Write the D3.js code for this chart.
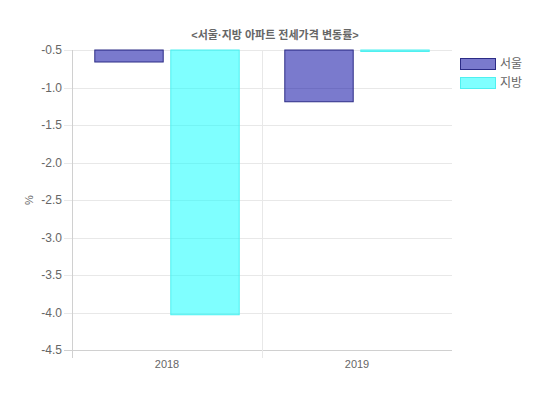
<!DOCTYPE html>
<html>
<head>
<meta charset="utf-8">
<script src="https://cdn.jsdelivr.net/npm/d3@7"></script>
<style>
  body { margin: 0; background: #fff; }
  svg text { font-family: "Liberation Sans", Arial, "Noto Sans CJK KR", sans-serif; fill: #666; }
</style>
</head>
<body>
<div id="chart"></div>
<script>
(function() {
  var years = ["2018", "2019"];
  var seriesNames = ["서울", "지방"];
  var seoul = [-0.66, -1.19];
  var jibang = [-4.03, -0.52];
  var yTicks = [-0.5, -1.0, -1.5, -2.0, -2.5, -3.0, -3.5, -4.0, -4.5];
  var titleText = "<서울·지방 아파트 전세가격 변동률>";

  var fills = ["rgba(0,0,160,0.52)", "rgba(0,255,255,0.5)"];
  var strokes = ["#2c2c86", "#4ff0f0"];

  var margin = { top: 50, left: 72, right: 98, bottom: 45 },
    width = 550 - margin.left - margin.right,
    height = 395 - margin.top - margin.bottom;

  var svg = d3.select("#chart")
    .append("svg")
    .attr("width", 550)
    .attr("height", 395)
    .append("g")
    .attr("transform", "translate(" + margin.left + "," + margin.top + ")");

  var xScale = d3.scaleBand().domain(years).range([0, width]);
  var xInner = d3.scaleBand().domain(seriesNames)
    .range([0, xScale.bandwidth() * 0.8])
    .paddingInner(0.1).paddingOuter(0.05);
  var yScale = d3.scaleLinear().domain([-0.5, -4.5]).range([0, height]);

  // grid lines
  svg.selectAll(".hgrid")
    .data(yTicks)
    .enter()
    .append("line")
    .attr("class", "hgrid")
    .attr("x1", -8)
    .attr("x2", width)
    .attr("y1", function(d) { return Math.round(yScale(d)) + 0.5 })
    .attr("y2", function(d) { return Math.round(yScale(d)) + 0.5 })
    .attr("stroke", function(d) { return d == -4.5 ? "#d0d0d0" : "#e8e8e8" })
    .attr("stroke-width", 1);

  svg.selectAll(".vgrid")
    .data([0, xScale.bandwidth()])
    .enter()
    .append("line")
    .attr("class", "vgrid")
    .attr("x1", function(d) { return Math.round(d) + 0.5 })
    .attr("x2", function(d) { return Math.round(d) + 0.5 })
    .attr("y1", 0)
    .attr("y2", height + 8)
    .attr("stroke", function(d) { return d == 0 ? "#d0d0d0" : "#e8e8e8" })
    .attr("stroke-width", 1);

  // y tick labels (plain hyphen like the original)
  var yAxis = d3.axisLeft(yScale).tickValues(yTicks)
    .tickFormat(function(d) { return d.toFixed(1) })
    .tickSize(0).tickPadding(10);
  var yG = svg.append("g").attr("class", "y-axis").call(yAxis);
  yG.select(".domain").remove();
  yG.selectAll("text").attr("font-size", 12).style("fill", "#666");

  // x tick labels
  var xAxis = d3.axisBottom(xScale).tickSize(0).tickPadding(10);
  var xG = svg.append("g")
    .attr("class", "x-axis")
    .attr("transform", "translate(0," + height + ")")
    .call(xAxis);
  xG.select(".domain").remove();
  xG.selectAll("text").attr("font-size", 11).style("fill", "#666");

  // bars
  var datasets = [seoul, jibang];
  datasets.forEach(function(values, i) {
    svg.selectAll(".bar-" + i)
      .data(values)
      .enter()
      .append("rect")
      .attr("class", "bar-" + i)
      .attr("x", function(d, j) { return xScale(years[j]) + xScale.bandwidth() * 0.1 + xInner(seriesNames[i]) })
      .attr("y", yScale(-0.5))
      .attr("width", xInner.bandwidth())
      .attr("height", function(d) { return yScale(d) - yScale(-0.5) })
      .attr("fill", fills[i])
      .attr("stroke", strokes[i])
      .attr("stroke-width", 1);
  });

  // title
  svg.append("text")
    .attr("x", 275 - margin.left)
    .attr("y", 39 - margin.top)
    .attr("text-anchor", "middle")
    .attr("font-size", 11)
    .attr("font-weight", "bold")
    .text(titleText);

  // y label
  svg.append("text")
    .attr("transform", "translate(" + (-39) + "," + (height / 2) + ") rotate(-90)")
    .attr("text-anchor", "middle")
    .attr("font-size", 11)
    .text("%");

  // legend
  var legend = svg.append("g")
    .attr("transform", "translate(" + (460 - margin.left) + "," + (58 - margin.top) + ")");
  seriesNames.forEach(function(name, i) {
    legend.append("rect")
      .attr("x", 0.5)
      .attr("y", i * 19 + 0.5)
      .attr("width", 35)
      .attr("height", 11)
      .attr("fill", fills[i])
      .attr("stroke", strokes[i])
      .attr("stroke-width", 1);
    legend.append("text")
      .attr("x", 40)
      .attr("y", i * 19 + 10)
      .attr("font-size", 12)
      .text(name);
  });
})();
</script>
</body>
</html>
